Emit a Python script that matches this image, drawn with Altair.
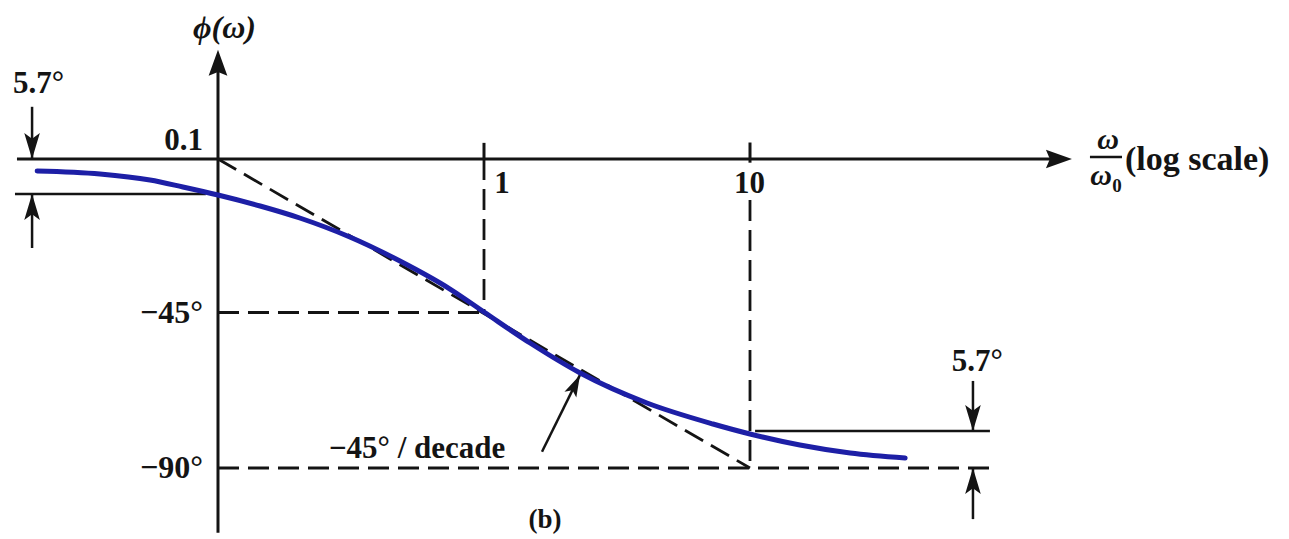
import altair as alt
import pandas as pd

# Phase of a first-order lag, sampled along the drawn curve (omega/omega0, degrees)
omega = [0.0209, 0.0360, 0.0555, 0.0738, 0.100, 0.144, 0.203, 0.313, 0.483,
         0.745, 1.00, 1.49, 2.30, 4.10, 7.26, 10.0, 15.4, 23.8, 38.3]
phase = [-1.95, -2.44, -3.42, -4.56, -6.03, -9.68, -13.66, -19.96, -27.92,
         -37.21, -44.84, -55.12, -65.07, -75.02, -81.98, -84.76, -86.46, -87.69, -88.46]

# Dashed construction lines: straight-line asymptote and the -45 / -90 guides
guide_w = [0.1, 0.1, 1.0, 10.0, 0.1]
guide_w2 = [10.0, 1.0, 1.0, 10.0, 82.0]
guide_p = [0.0, -45.0, 0.0, -7.7, -90.0]
guide_p2 = [-90.0, -45.0, -45.0, -90.0, -90.0]

# Axis lines and tick marks
axis_w = [0.01755, 0.1, 1.0, 10.0]
axis_w2 = [140.0, 0.1, 1.0, 10.0]
axis_p = [0.0, -108.9, 4.7, 4.8]
axis_p2 = [0.0, 26.0, 0.0, -0.6]

# Dimension lines for the 5.7 degree deviations, slope pointer, fraction bar
dim_w = [0.01725, 0.0200, 0.0200, 10.45, 68.9, 68.9, 1.652, 189.7]
dim_w2 = [0.090, 0.0200, 0.0200, 79.8, 68.9, 68.9, 2.296, 250.3]
dim_p = [-5.7, 15.2, -23.6, -84.3, -67.7, -104.9, -87.5, 0.6]
dim_p2 = [-5.7, 0.0, -5.7, -84.3, -84.3, -90.0, -65.7, 0.6]

# Arrow heads: tip position and heading (degrees clockwise from up)
axis_head_w = [0.1, 162.3]
axis_head_p = [31.8, 0.0]
axis_head_a = [0, 90]
dim_head_w = [0.0200, 0.0200, 68.9, 68.9]
dim_head_p = [0.0, -5.7, -84.3, -90.0]
dim_head_a = [180, 0, 180, 0]
ptr_head_w = [2.296]
ptr_head_p = [-65.7]
ptr_head_a = [26]

# Text labels
origin_text = ["0.1"]
origin_w = [0.0878]
origin_p = [2.6]

tick_text = ["\u221245\u00b0", "\u221290\u00b0"]
tick_w = [0.0878, 0.0878]
tick_p = [-45.0, -90.0]

decade_text = ["1", "10"]
decade_w = [1.169, 9.95]
decade_p = [-5.5, -5.5]

note_text = ["5.7\u00b0", "5.7\u00b0", "\u221245\u00b0 / decade"]
note_w = [0.01695, 57.4, 0.2612]
note_p = [19.2, -64.4, -88.5]

INK = "#141414"
CURVE = "#1d1fa6"
FONT = "Liberation Serif"

X_SCALE = alt.Scale(type="log", domain=[0.015152, 1062.5], nice=False)
Y_SCALE = alt.Scale(type="linear", domain=[-110.7, -90.0, -84.3, -5.7, 0.0, 46.3],
                    range=[539, 468, 431, 194, 159, 0], nice=False, zero=False)


def xy():
    return dict(x=alt.X("w:Q", scale=X_SCALE, axis=None),
                y=alt.Y("p:Q", scale=Y_SCALE, axis=None))


def segments(w, w2, p, p2, width, dash=None):
    df = pd.DataFrame({"w": w, "w2": w2, "p": p, "p2": p2})
    kw = dict(color=INK, strokeWidth=width, strokeCap="butt")
    if dash:
        kw["strokeDash"] = dash
    return alt.Chart(df).mark_rule(**kw).encode(
        x2=alt.X2("w2:Q"), y2=alt.Y2("p2:Q"), **xy())


def heads(w, p, a, path, size):
    df = pd.DataFrame({"w": w, "p": p, "a": a})
    return alt.Chart(df).mark_point(shape=path, filled=True, size=size, color=INK,
                                    opacity=1, strokeWidth=0).encode(
        angle=alt.Angle("a:Q", scale=None), **xy())


def labels(w, p, texts, align, baseline, size, style="normal"):
    df = pd.DataFrame({"w": w, "p": p, "t": texts})
    return alt.Chart(df).mark_text(align=align, baseline=baseline, fontSize=size,
                                   font=FONT, fontWeight="bold", fontStyle=style,
                                   color=INK).encode(text="t:N", **xy())


curve = alt.Chart(pd.DataFrame({"w": omega, "p": phase})).mark_line(
    color=CURVE, strokeWidth=5, interpolate="monotone", strokeCap="round").encode(**xy())

solid_head = "M0,0L0.36,1L0,0.85L-0.36,1Z"
barb_head = "M0,0L0.3,1L0,0.78L-0.3,1Z"

layers = [
    segments(guide_w, guide_w2, guide_p, guide_p2, 2.8, dash=[21, 9]),
    segments(axis_w, axis_w2, axis_p, axis_p2, 3),
    segments(dim_w, dim_w2, dim_p, dim_p2, 2.5),
    curve,
    heads(axis_head_w, axis_head_p, axis_head_a, solid_head, 2704),
    heads(dim_head_w, dim_head_p, dim_head_a, barb_head, 2704),
    heads(ptr_head_w, ptr_head_p, ptr_head_a, barb_head, 1936),
    labels(origin_w, origin_p, origin_text, "right", "alphabetic", 31),
    labels(tick_w, tick_p, tick_text, "right", "middle", 32),
    labels(decade_w, decade_p, decade_text, "center", "alphabetic", 31),
    labels(note_w, note_p, note_text, "left", "alphabetic", 31),
    labels([256.9], [-1.8], ["(log scale)"], "left", "alphabetic", 34),
    labels([0.1058], [35.3], ["\u03d5(\u03c9)"], "center", "alphabetic", 32, "italic"),
    labels([221.8, 208.8], [2.9, -4.2], ["\u03c9", "\u03c9"], "center", "alphabetic", 30, "italic"),
    labels([239.7], [-5.4], ["0"], "center", "alphabetic", 19),
    labels([1.695], [-107.5], ["(b)"], "center", "alphabetic", 27),
]

chart = alt.layer(*layers).properties(
    width=1289, height=539, padding=0, autosize="none", background="white"
).configure_view(stroke=None)

chart.save("out.html", embed_options={"renderer": "svg", "actions": False})
